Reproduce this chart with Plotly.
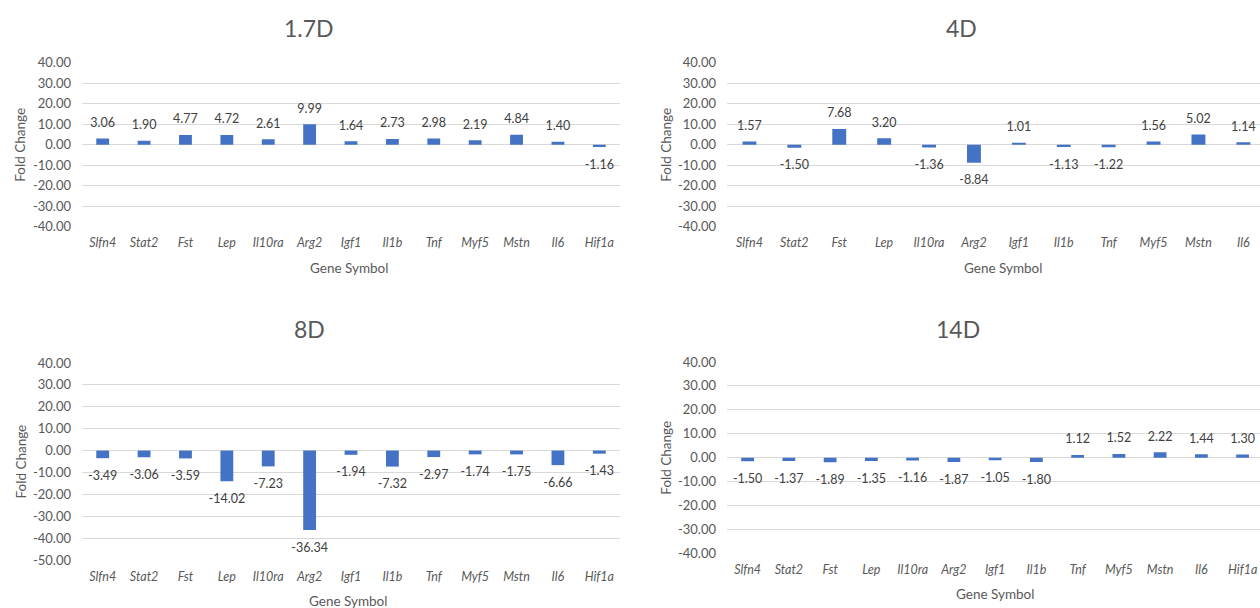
import plotly.graph_objects as go

genes = ["Slfn4", "Stat2", "Fst", "Lep", "Il10ra", "Arg2", "Igf1", "Il1b",
         "Tnf", "Myf5", "Mstn", "Il6", "Hif1a"]
fc_1_7d = [3.06, 1.90, 4.77, 4.72, 2.61, 9.99, 1.64, 2.73, 2.98, 2.19, 4.84, 1.40, -1.16]
# 4D: the Hif1a bar lies outside the visible picture (cropped)
fc_4d = [1.57, -1.50, 7.68, 3.20, -1.36, -8.84, 1.01, -1.13, -1.22, 1.56, 5.02, 1.14]
fc_8d = [-3.49, -3.06, -3.59, -14.02, -7.23, -36.34, -1.94, -7.32, -2.97, -1.74, -1.75, -6.66, -1.43]
fc_14d = [-1.50, -1.37, -1.89, -1.35, -1.16, -1.87, -1.05, -1.80, 1.12, 1.52, 2.22, 1.44, 1.30]

titles = ["1.7D", "4D", "8D", "14D"]
ticks_top = [40, 30, 20, 10, 0, -10, -20, -30, -40]
ticks_8d = [40, 30, 20, 10, 0, -10, -20, -30, -40, -50]

W, H = 1260, 608
BAR = "#4472C4"
GRID = "#D9D9D9"
TXT = "#595959"
FONT = "Lato"


def px(x):
    return x / W


def py(y):
    return 1 - y / H


# panel geometry in pixels
panels = [
    dict(vals=fc_1_7d, xl=82, xr=620, yt=62.7, yb=226.7, xrange=[-0.5, 12.5], yrange=[-40, 40], ticks=ticks_top,
         title_xy=(309, 28), xt_xy=(349, 268), yt_x=20),
    dict(vals=fc_4d, xl=727, xr=1260, yt=62.7, yb=226.7, xrange=[-0.5, -0.5 + 533 / 44.9], yrange=[-40, 40],
         ticks=ticks_top, title_xy=(962, 28), xt_xy=(1003, 268), yt_x=666),
    dict(vals=fc_8d, xl=82, xr=620, yt=363, yb=560, xrange=[-0.5, 12.5], yrange=[-50, 40], ticks=ticks_8d,
         title_xy=(309, 329), xt_xy=(348, 601), yt_x=20),
    dict(vals=fc_14d, xl=727, xr=1260, yt=362, yb=553.3, xrange=[-0.5, -0.5 + 533 / 41.25], yrange=[-40, 40],
         ticks=ticks_top, title_xy=(958, 329), xt_xy=(995, 594), yt_x=666),
]

fig = go.Figure()
annotations = []
layout = {}
for i, p in enumerate(panels):
    n = "" if i == 0 else str(i + 1)
    vals = p["vals"]
    xs = genes[:len(vals)]
    fig.add_trace(go.Bar(
        x=xs, y=vals,
        xaxis="x" + n, yaxis="y" + n,
        marker=dict(color=BAR, line=dict(width=0)),
        width=0.31,
        showlegend=False,
        hoverinfo="x+y",
    ))
    # data labels (outside end), offset from the bar end by an invisible marker
    fig.add_trace(go.Scatter(
        x=xs, y=vals,
        xaxis="x" + n, yaxis="y" + n,
        mode="markers+text",
        marker=dict(size=[12 if v >= 0 else 18 for v in vals], opacity=0),
        text=[f"{v:.2f}" for v in vals],
        textposition=["top center" if v >= 0 else "bottom center" for v in vals],
        textfont=dict(family=FONT, size=12.5, color="#404040"),
        cliponaxis=False,
        showlegend=False,
        hoverinfo="skip",
    ))
    layout["xaxis" + n] = dict(
        domain=[px(p["xl"]), px(p["xr"])], anchor="y" + n,
        type="category", categoryorder="array", categoryarray=genes,
        range=p["xrange"], showgrid=False, zeroline=False, showline=False,
        ticks="", ticklabelstandoff=7, automargin=False,
        tickfont=dict(family=FONT, size=12.5, color=TXT, style="italic"),
        fixedrange=True,
    )
    layout["yaxis" + n] = dict(
        domain=[py(p["yb"]), py(p["yt"])], anchor="x" + n,
        range=p["yrange"], tickvals=p["ticks"], ticktext=[f"{t:.2f}" for t in p["ticks"]],
        showgrid=True, gridcolor=GRID, gridwidth=1,
        zeroline=True, zerolinecolor=GRID, zerolinewidth=1,
        showline=False, ticks="", ticklabelstandoff=10, automargin=False,
        tickfont=dict(family=FONT, size=13, color=TXT),
        fixedrange=True,
    )
    annotations.append(dict(text=titles[i], x=px(p["title_xy"][0]), y=py(p["title_xy"][1]),
                            xref="paper", yref="paper", showarrow=False,
                            xanchor="center", yanchor="middle",
                            font=dict(family=FONT, size=23, color=TXT)))
    annotations.append(dict(text="Gene Symbol", x=px(p["xt_xy"][0]), y=py(p["xt_xy"][1]),
                            xref="paper", yref="paper", showarrow=False,
                            xanchor="center", yanchor="middle",
                            font=dict(family=FONT, size=13.5, color=TXT)))
    annotations.append(dict(text="Fold Change", x=px(p["yt_x"]), y=py((p["yt"] + p["yb"]) / 2),
                            xref="paper", yref="paper", showarrow=False, textangle=-90,
                            xanchor="center", yanchor="middle",
                            font=dict(family=FONT, size=13.5, color=TXT)))

fig.update_layout(
    width=W, height=H,
    margin=dict(l=0, r=0, t=0, b=0, autoexpand=False),
    paper_bgcolor="white", plot_bgcolor="white",
    annotations=annotations,
    bargap=0.7,
    hovermode=False,
    **layout,
)

fig.write_html("out.html",
               config={"displayModeBar": False},
               post_script="document.body.style.margin='0';document.body.style.overflow='hidden';")
